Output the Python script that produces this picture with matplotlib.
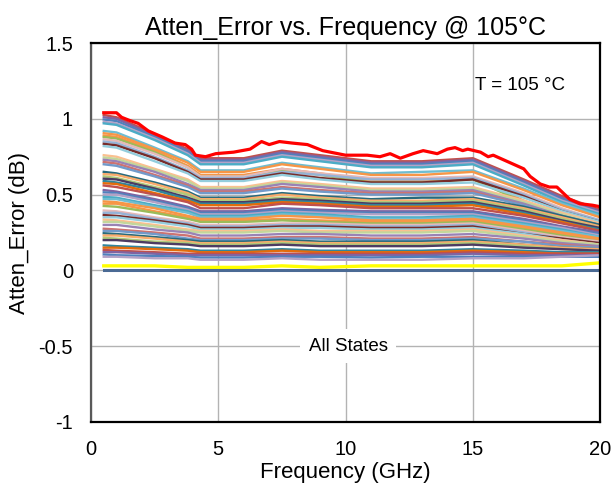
import matplotlib
matplotlib.use("Agg")
import matplotlib.pyplot as plt
from matplotlib.ticker import FuncFormatter

plt.rcParams['font.family'] = ['Liberation Sans', 'DejaVu Sans']
plt.rcParams['axes.unicode_minus'] = False

# worst state, read in more detail
top_freq = [0.5, 1.0, 1.2, 1.5, 1.85, 2.25, 2.8, 3.3, 3.7, 3.95, 4.1, 4.5, 4.9, 5.6,
            6.25, 6.7, 7.0, 7.4, 7.9, 8.5, 9.1, 9.4, 10.0, 10.85, 11.35, 11.75, 12.15,
            12.65, 13.05, 13.6, 14.0, 14.3, 14.6, 14.8, 15.3, 15.6, 15.8, 16.2, 17.0,
            17.25, 17.65, 18.0, 18.3, 18.8, 19.2, 19.7, 20.0]
top_state = [1.04, 1.04, 1.01, 0.99, 0.97, 0.92, 0.88, 0.84, 0.83, 0.80, 0.76, 0.75,
             0.77, 0.78, 0.80, 0.85, 0.83, 0.85, 0.84, 0.83, 0.79, 0.78, 0.76, 0.76,
             0.75, 0.77, 0.74, 0.77, 0.79, 0.77, 0.80, 0.81, 0.79, 0.80, 0.78, 0.75,
             0.76, 0.73, 0.67, 0.62, 0.57, 0.55, 0.55, 0.47, 0.44, 0.43, 0.42]

# all other states on a coarser grid
freq = [0.5, 1, 2.5, 3.8, 4.3, 6, 7.5, 9, 11, 13, 15, 17, 18.5, 20]

states_a = [
    [1.025, 1.01, 0.90, 0.80, 0.74, 0.74, 0.79, 0.76, 0.72, 0.72, 0.74, 0.60, 0.49, 0.40],
    [1.01, 1.00, 0.89, 0.79, 0.73, 0.73, 0.78, 0.75, 0.71, 0.71, 0.73, 0.59, 0.48, 0.39],
    [0.995, 0.985, 0.88, 0.78, 0.72, 0.72, 0.77, 0.74, 0.70, 0.70, 0.72, 0.58, 0.47, 0.38],
    [0.98, 0.97, 0.87, 0.77, 0.71, 0.71, 0.76, 0.73, 0.69, 0.69, 0.71, 0.57, 0.46, 0.38],
    [0.97, 0.96, 0.86, 0.76, 0.70, 0.70, 0.75, 0.72, 0.68, 0.68, 0.70, 0.56, 0.45, 0.37],
    [0.92, 0.91, 0.81, 0.72, 0.66, 0.66, 0.71, 0.68, 0.64, 0.65, 0.66, 0.54, 0.44, 0.36],
    [0.905, 0.895, 0.80, 0.71, 0.65, 0.65, 0.70, 0.67, 0.63, 0.63, 0.65, 0.53, 0.43, 0.35],
    [0.89, 0.88, 0.79, 0.69, 0.63, 0.63, 0.67, 0.64, 0.59, 0.59, 0.61, 0.46, 0.37, 0.29],
    [0.88, 0.87, 0.78, 0.68, 0.62, 0.62, 0.66, 0.63, 0.58, 0.58, 0.60, 0.45, 0.36, 0.28],
    [0.865, 0.855, 0.77, 0.68, 0.62, 0.62, 0.67, 0.64, 0.61, 0.61, 0.62, 0.51, 0.41, 0.33],
    [0.85, 0.84, 0.75, 0.66, 0.61, 0.61, 0.65, 0.63, 0.60, 0.60, 0.61, 0.50, 0.40, 0.33],
    [0.835, 0.825, 0.74, 0.65, 0.60, 0.60, 0.64, 0.61, 0.58, 0.58, 0.60, 0.49, 0.39, 0.32],
    [0.82, 0.81, 0.72, 0.64, 0.59, 0.59, 0.63, 0.60, 0.57, 0.57, 0.58, 0.48, 0.39, 0.32],
]

states_b = [
    [0.76, 0.75, 0.67, 0.60, 0.55, 0.55, 0.59, 0.57, 0.54, 0.54, 0.55, 0.46, 0.38, 0.31],
    [0.745, 0.735, 0.66, 0.59, 0.54, 0.54, 0.58, 0.56, 0.53, 0.53, 0.54, 0.45, 0.37, 0.30],
    [0.73, 0.72, 0.65, 0.57, 0.53, 0.53, 0.57, 0.55, 0.52, 0.52, 0.53, 0.44, 0.36, 0.30],
    [0.715, 0.705, 0.63, 0.56, 0.52, 0.52, 0.55, 0.53, 0.51, 0.51, 0.52, 0.43, 0.35, 0.29],
    [0.70, 0.69, 0.62, 0.55, 0.51, 0.51, 0.54, 0.52, 0.50, 0.50, 0.51, 0.43, 0.35, 0.29],
    [0.65, 0.64, 0.58, 0.52, 0.48, 0.48, 0.51, 0.49, 0.47, 0.48, 0.48, 0.42, 0.36, 0.30],
    [0.635, 0.63, 0.57, 0.51, 0.47, 0.47, 0.50, 0.48, 0.46, 0.46, 0.47, 0.41, 0.35, 0.29],
    [0.62, 0.61, 0.55, 0.50, 0.46, 0.46, 0.48, 0.47, 0.45, 0.45, 0.46, 0.40, 0.34, 0.28],
    [0.605, 0.60, 0.54, 0.48, 0.45, 0.45, 0.47, 0.46, 0.44, 0.44, 0.45, 0.39, 0.33, 0.28],
    [0.59, 0.58, 0.53, 0.47, 0.44, 0.44, 0.46, 0.45, 0.43, 0.43, 0.44, 0.38, 0.32, 0.27],
    [0.575, 0.57, 0.51, 0.46, 0.43, 0.43, 0.45, 0.44, 0.42, 0.42, 0.43, 0.37, 0.32, 0.26],
    [0.56, 0.55, 0.50, 0.45, 0.41, 0.41, 0.44, 0.43, 0.41, 0.41, 0.41, 0.36, 0.31, 0.26],
]

states_c = [
    [0.53, 0.52, 0.47, 0.42, 0.39, 0.39, 0.41, 0.40, 0.39, 0.39, 0.39, 0.34, 0.29, 0.25],
    [0.515, 0.51, 0.46, 0.41, 0.38, 0.38, 0.40, 0.39, 0.38, 0.38, 0.38, 0.33, 0.28, 0.24],
    [0.50, 0.50, 0.45, 0.40, 0.37, 0.37, 0.39, 0.38, 0.37, 0.37, 0.37, 0.32, 0.28, 0.23],
    [0.485, 0.48, 0.43, 0.39, 0.36, 0.36, 0.38, 0.37, 0.35, 0.35, 0.36, 0.31, 0.27, 0.22],
    [0.47, 0.47, 0.42, 0.38, 0.35, 0.35, 0.37, 0.36, 0.34, 0.34, 0.35, 0.30, 0.26, 0.22],
    [0.455, 0.45, 0.41, 0.36, 0.34, 0.34, 0.36, 0.35, 0.33, 0.33, 0.34, 0.29, 0.25, 0.21],
    [0.44, 0.44, 0.39, 0.35, 0.33, 0.33, 0.34, 0.33, 0.32, 0.32, 0.33, 0.28, 0.24, 0.20],
    [0.425, 0.42, 0.38, 0.34, 0.32, 0.32, 0.33, 0.32, 0.31, 0.31, 0.32, 0.27, 0.23, 0.19],
    [0.395, 0.39, 0.35, 0.32, 0.30, 0.30, 0.31, 0.31, 0.30, 0.30, 0.31, 0.26, 0.22, 0.19],
    [0.38, 0.38, 0.34, 0.31, 0.29, 0.29, 0.30, 0.30, 0.29, 0.29, 0.30, 0.25, 0.21, 0.18],
    [0.365, 0.36, 0.33, 0.30, 0.28, 0.28, 0.29, 0.29, 0.28, 0.28, 0.29, 0.24, 0.21, 0.18],
    [0.35, 0.35, 0.32, 0.29, 0.27, 0.27, 0.28, 0.28, 0.27, 0.27, 0.28, 0.24, 0.20, 0.17],
    [0.335, 0.33, 0.30, 0.27, 0.26, 0.26, 0.27, 0.26, 0.26, 0.26, 0.27, 0.23, 0.20, 0.17],
    [0.32, 0.32, 0.29, 0.26, 0.25, 0.25, 0.26, 0.25, 0.25, 0.25, 0.26, 0.22, 0.19, 0.17],
    [0.30, 0.30, 0.27, 0.25, 0.23, 0.23, 0.24, 0.24, 0.23, 0.23, 0.24, 0.21, 0.18, 0.16],
]

states_d = [
    [0.275, 0.27, 0.25, 0.23, 0.21, 0.21, 0.22, 0.22, 0.21, 0.21, 0.22, 0.19, 0.17, 0.15],
    [0.26, 0.26, 0.24, 0.21, 0.20, 0.20, 0.21, 0.21, 0.20, 0.20, 0.21, 0.19, 0.16, 0.15],
    [0.245, 0.24, 0.22, 0.20, 0.19, 0.19, 0.20, 0.19, 0.19, 0.19, 0.20, 0.17, 0.15, 0.14],
    [0.23, 0.23, 0.21, 0.19, 0.18, 0.18, 0.19, 0.18, 0.18, 0.18, 0.19, 0.17, 0.15, 0.14],
    [0.215, 0.21, 0.19, 0.18, 0.17, 0.17, 0.18, 0.17, 0.17, 0.17, 0.18, 0.16, 0.14, 0.13],
    [0.20, 0.20, 0.18, 0.17, 0.16, 0.16, 0.17, 0.16, 0.16, 0.16, 0.17, 0.15, 0.14, 0.13],
    [0.165, 0.16, 0.15, 0.14, 0.13, 0.13, 0.14, 0.13, 0.13, 0.13, 0.14, 0.13, 0.12, 0.12],
    [0.15, 0.15, 0.14, 0.13, 0.12, 0.12, 0.13, 0.12, 0.12, 0.12, 0.13, 0.12, 0.11, 0.11],
    [0.135, 0.13, 0.12, 0.11, 0.11, 0.11, 0.11, 0.11, 0.11, 0.11, 0.12, 0.11, 0.11, 0.11],
    [0.12, 0.12, 0.11, 0.10, 0.10, 0.10, 0.10, 0.10, 0.10, 0.10, 0.11, 0.10, 0.10, 0.10],
    [0.105, 0.10, 0.095, 0.09, 0.085, 0.085, 0.09, 0.09, 0.085, 0.09, 0.09, 0.09, 0.09, 0.09],
    [0.09, 0.09, 0.08, 0.08, 0.07, 0.07, 0.08, 0.07, 0.07, 0.07, 0.08, 0.08, 0.09, 0.10],
]

yellow_state = [0.03, 0.03, 0.03, 0.02, 0.02, 0.02, 0.03, 0.02, 0.03, 0.03, 0.03, 0.03, 0.03, 0.05]
ref_state = [0.0] * len(freq)

# Excel-like series colours, mid tones mixed with tints and a few shades
palette = ['#C0504D', '#8064A2', '#4F81BD', '#B3A2C7', '#4BACC6', '#6FBDD1',
           '#F79646', '#F79646', '#9BBB59', '#E6B9B8', '#95B3D7', '#772C2A',
           '#93CDDD', '#FAC090', '#C3D69B', '#9983B5', '#CD7371', '#729ACA',
           '#276A7C', '#F9AB6B', '#AFC97A', '#4D3B62', '#31859C', '#E46C0A']

fig = plt.figure(figsize=(6.13, 4.86), dpi=100)
ax = fig.add_axes([0.1485, 0.1317, 0.8305, 0.7798])

states = states_a + states_b + states_c + states_d
for i, row in enumerate(states):
    ax.plot(freq, row, color=palette[i % len(palette)], lw=1.7)

ax.plot(freq, yellow_state, color='#FFFF00', lw=2.4)
ax.plot(freq, ref_state, color='#4A6A94', lw=2.2)
ax.plot(top_freq, top_state, color='#FF0000', lw=2.3)

ax.set_xlim(0, 20)
ax.set_ylim(-1, 1.5)
ax.set_xticks([0, 5, 10, 15, 20])
ax.set_yticks([-1, -0.5, 0, 0.5, 1, 1.5])
ax.yaxis.set_major_formatter(FuncFormatter(lambda v, p: f"{v:g}"))
ax.grid(True, color='#b3b3b3', lw=1.0)
ax.set_axisbelow(True)
ax.tick_params(length=0, labelsize=14.5, pad=13)

for side in ['top', 'right', 'bottom']:
    ax.spines[side].set_color('black')
    ax.spines[side].set_linewidth(1.6)
ax.spines['left'].set_color('#595959')
ax.spines['left'].set_linewidth(1.6)

ax.set_title("Atten_Error vs. Frequency @ 105°C", fontsize=18, pad=6)
ax.set_xlabel("Frequency (GHz)", fontsize=16, labelpad=2)
ax.set_ylabel("Atten_Error (dB)", fontsize=16, labelpad=6)

ax.text(16.85, 1.22, "T = 105 °C", fontsize=13.5, ha='center', va='center')
ax.text(10.1, -0.5, "All States", fontsize=13.5, ha='center', va='center',
        bbox=dict(facecolor='white', edgecolor='none', pad=6))

fig.savefig("out.png", dpi=100)
